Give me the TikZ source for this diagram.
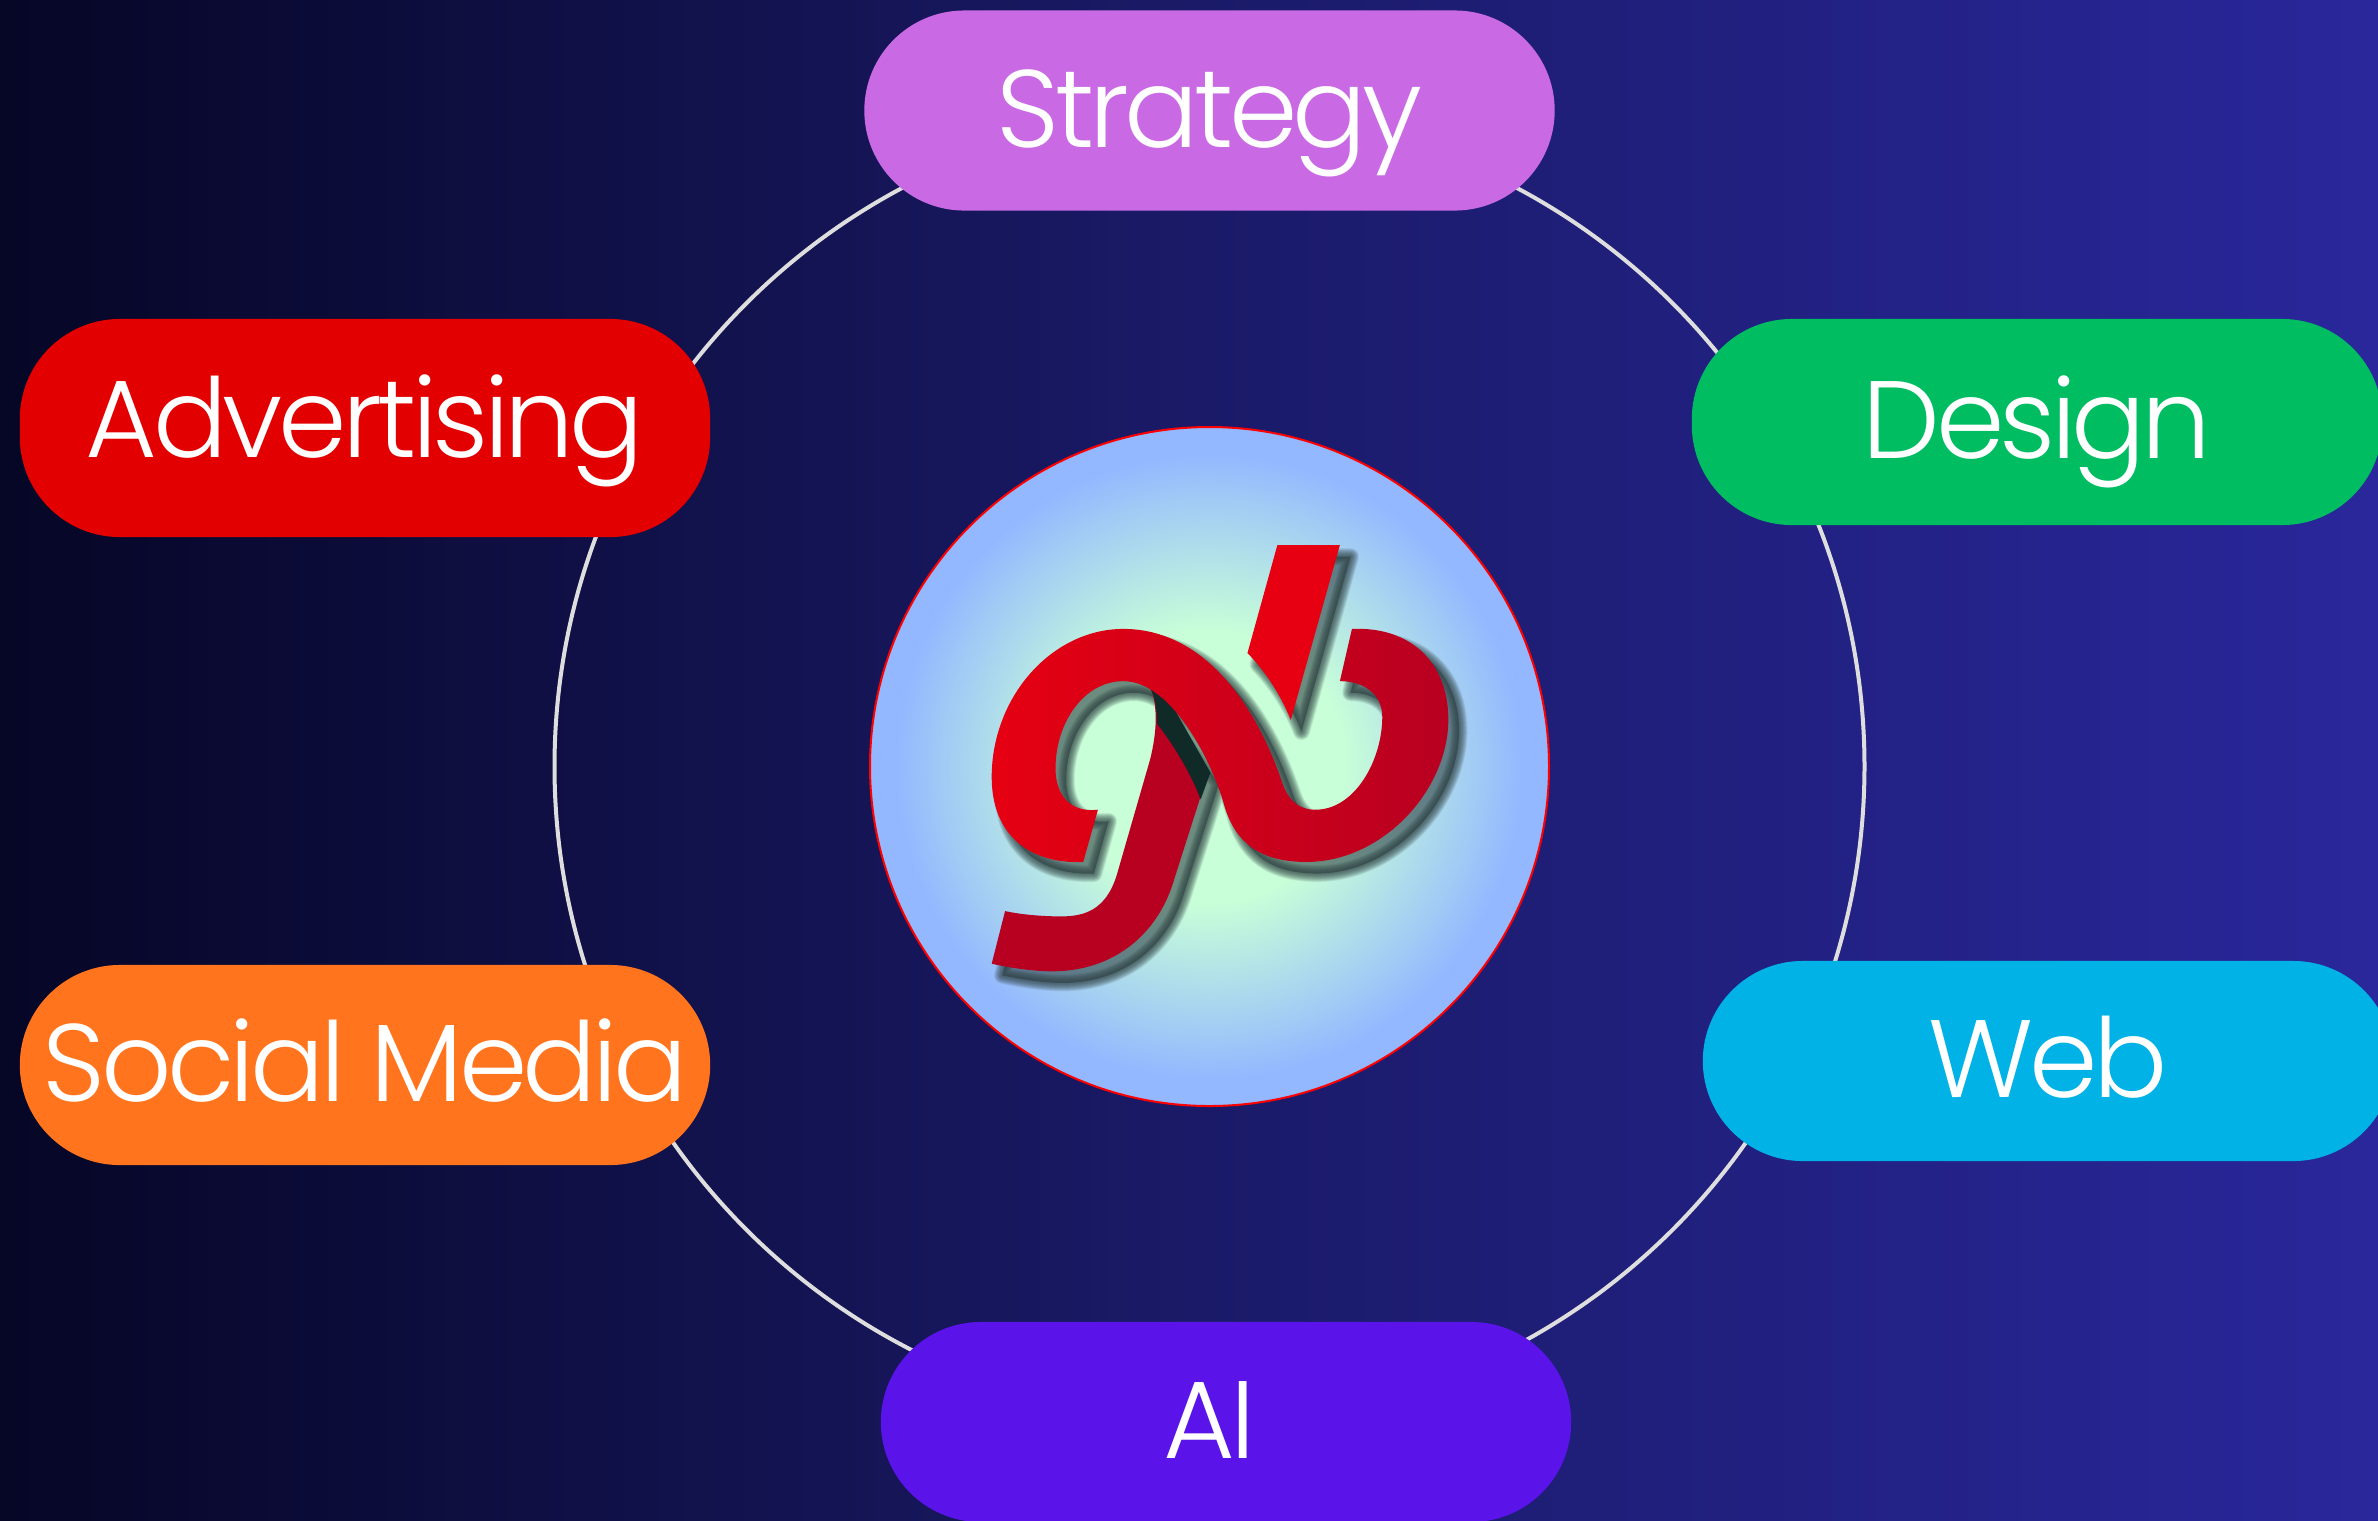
\documentclass[tikz,border=0pt]{standalone}
\usepackage{xcolor}
\usepackage{fontspec}
\setmainfont[LetterSpace=-4.2]{Poppins Light}
\usetikzlibrary{shapes.misc}

\definecolor{bgleft}{HTML}{060626}
\definecolor{bgmid}{HTML}{1A1A68}
\definecolor{bgright}{HTML}{29279B}
\definecolor{hubmint}{HTML}{C8FFD8}
\definecolor{hubblue}{HTML}{94B8FF}
\definecolor{logored}{HTML}{E60012}
\definecolor{logodeep}{HTML}{B80021}
\definecolor{logoshadow}{HTML}{2E4042}
\definecolor{logodark}{HTML}{102A28}

\pgfdeclarehorizontalshading{bgshade}{100bp}{color(0bp)=(bgleft); color(25bp)=(bgleft);
    color(50bp)=(bgmid); color(75bp)=(bgright); color(100bp)=(bgright)}
\pgfdeclareradialshading{hubshade}{\pgfpoint{0bp}{0bp}}{color(0bp)=(hubmint); color(10bp)=(hubmint);
    color(23bp)=(hubblue); color(50bp)=(hubblue)}

\tikzset{
    pill/.style = {rectangle, rounded corners = 1cm, minimum width = 6.9cm, minimum height = 2cm,
        inner sep = 0pt, text = white, text height = 22pt, text depth = 1pt,
        font = \fontsize{31.3}{36}\selectfont},
    logoband/.style = {insert path = {
        (533,873) -- (500,990) .. controls (380,995) and (295,930) .. (295,800)
        .. controls (295,620) and (430,468) .. (590,468)
        .. controls (760,468) and (880,620) .. (945,810)
        .. controls (960,855) and (985,873) .. (1020,873)
        .. controls (1110,873) and (1170,760) .. (1170,665)
        .. controls (1170,615) and (1130,585) .. (1075,585) -- (1102,468)
        .. controls (1240,462) and (1318,550) .. (1318,670)
        .. controls (1318,830) and (1170,990) .. (1000,990)
        .. controls (900,990) and (840,950) .. (815,860)
        .. controls (790,770) and (700,585) .. (590,585)
        .. controls (500,585) and (438,680) .. (438,780)
        .. controls (438,840) and (470,880) .. (533,873) -- cycle}},
    logotick/.style = {insert path = {
        (935,280) -- (1075,280) -- (965,672) .. controls (940,610) and (905,560) .. (868,522) -- cycle}},
    logostem/.style = {insert path = {
        (650,600) .. controls (668,640) and (665,700) .. (650,760) -- (575,1020)
        .. controls (550,1100) and (500,1112) .. (450,1112)
        .. controls (410,1112) and (360,1108) .. (325,1100) -- (295,1218)
        .. controls (340,1228) and (390,1235) .. (430,1235)
        .. controls (570,1235) and (670,1150) .. (705,1025) -- (780,790) -- cycle}}
}

\begin{document}
\begin{tikzpicture}[x = 0.01cm, y = -0.01cm]
    \useasboundingbox (0, 0) rectangle (2378, 1520);
    \shade[shading = bgshade] (0, 0) rectangle (2378, 1520);

    \node[circle, minimum size = 6.79cm, inner sep = 0pt] (hub) at (1209.5, 766.5) {};
    \draw[color = white!87!black, line width = 0.04cm] (hub.center) circle (655);
    \shade[shading = hubshade, draw = red, line width = 0.02cm] (hub.center) circle (339.5);

    \begin{scope}[shift = {(860, 420)}, scale = 0.4464]
        % soft shadow, heaviest at the middle
        \begin{scope}[shift = {(24, 26)}]
            \path[logoshadow, fill, fill opacity = 0.6, logostem, logotick, logoband];
            \foreach \w in {0.02, 0.03, ..., 0.17} {
                \path[logoshadow, draw, line width = \w cm, draw opacity = 0.07, line join = round,
                    logostem, logotick, logoband];
            }
        \end{scope}
        \path[fill = logodeep, logostem];
        \path[fill = logodark] (650, 600) .. controls (665, 630) and (665, 660) .. (665, 680)
            .. controls (705, 730) and (745, 800) .. (763, 850) -- (785, 790) -- (700, 640) -- cycle;
        \path[fill = logored, logotick];
        \shade[left color = logored, right color = logodeep, logoband];
    \end{scope}

    \node[pill, fill = {rgb,255:red,201;green,106;blue,228}] (strategy) at (1209.5, 110.5) {Strategy};
    \node[pill, fill = {rgb,255:red,0;green,189;blue,98}, minimum height = 2.06cm] (design) at (2037, 422) {Design};
    \node[pill, fill = {rgb,255:red,0;green,178;blue,230}] (web) at (2048, 1061) {Web};
    \node[pill, fill = {rgb,255:red,90;green,19;blue,232}] (ai) at (1226, 1422) {\kern-0.33cm AI};
    \node[pill, fill = {rgb,255:red,255;green,116;blue,28}] (social) at (365, 1065) {Social Media};
    \node[pill, fill = {rgb,255:red,227;green,0;blue,0}, minimum height = 2.18cm, text depth = 5pt] (advertising) at (365, 428) {Advertising};
\end{tikzpicture}
\end{document}
